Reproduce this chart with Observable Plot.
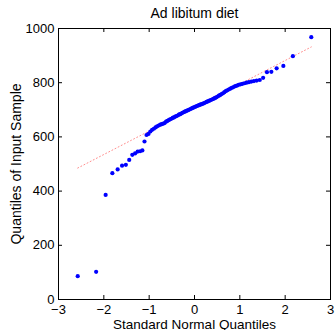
<!DOCTYPE html>
<html><head><meta charset="utf-8">
<script src="https://cdn.jsdelivr.net/npm/d3@7"></script>
<script src="https://cdn.jsdelivr.net/npm/@observablehq/plot@0.6"></script>
<style>body{margin:0;background:#fff}</style>
</head><body><div id="chart"></div>
<script>
const title = "Ad libitum diet";
const xLabel = "Standard Normal Quantiles";
const yLabel = "Quantiles of Input Sample";
const xTicks = [-3, -2, -1, 0, 1, 2, 3];
const yTicks = [0, 200, 400, 600, 800, 1000];

// Standard normal quantiles (x positions of the points)
const normalQuantiles = [
  -2.576, -2.170, -1.960, -1.812, -1.695, -1.598, -1.514, -1.440, -1.372, -1.311,
  -1.254, -1.200, -1.150, -1.103, -1.058, -1.015, -0.974, -0.935, -0.897, -0.860,
  -0.824, -0.789, -0.755, -0.722, -0.690, -0.659, -0.628, -0.598, -0.568, -0.539,
  -0.510, -0.482, -0.454, -0.426, -0.399, -0.372, -0.345, -0.319, -0.292, -0.266,
  -0.240, -0.215, -0.189, -0.164, -0.138, -0.113, -0.088, -0.063, -0.038, -0.013,
   0.013,  0.038,  0.063,  0.088,  0.113,  0.138,  0.164,  0.189,  0.215,  0.240,
   0.266,  0.292,  0.319,  0.345,  0.372,  0.399,  0.426,  0.454,  0.482,  0.510,
   0.539,  0.568,  0.598,  0.628,  0.659,  0.690,  0.722,  0.755,  0.789,  0.824,
   0.860,  0.897,  0.935,  0.974,  1.015,  1.058,  1.103,  1.150,  1.200,  1.254,
   1.311,  1.372,  1.440,  1.514,  1.598,  1.695,  1.812,  1.960,  2.170,  2.576
];

// Sorted sample values (y positions of the points)
const sampleQuantiles = [
   86, 102, 386, 466, 480, 494, 497, 515, 534, 539,
  546, 547, 550, 583, 607, 611, 620, 626, 630, 635,
  639, 642, 645, 647, 649, 651, 656, 659, 662, 665,
  667, 670, 672, 675, 677, 679, 682, 684, 686, 689,
  691, 693, 695, 697, 699, 701, 703, 705, 707, 709,
  711, 713, 715, 716, 718, 720, 721, 723, 725, 727,
  729, 731, 733, 735, 737, 739, 741, 744, 746, 749,
  752, 755, 758, 761, 765, 769, 772, 775, 778, 781,
  784, 787, 789, 792, 794, 796, 798, 800, 802, 804,
  806, 808, 810, 818, 839, 840, 853, 862, 898, 968
];

const points = normalQuantiles.map((x, i) => ({x, y: sampleQuantiles[i]}));
const n = points.length;
const xs = normalQuantiles.slice().sort((a, b) => a - b);
const ys = sampleQuantiles.slice().sort((a, b) => a - b);
const lo = Math.floor(n / 4) - 1, hi = Math.floor(3 * n / 4) - 1;
const q1x = (xs[lo] + xs[lo + 1]) / 2, q3x = (xs[hi] + xs[hi + 1]) / 2;
const q1y = (ys[lo] + ys[lo + 1]) / 2, q3y = (ys[hi] + ys[hi + 1]) / 2;
const slope = (q3y - q1y) / (q3x - q1x);
const f = x => q1y + slope * (x - q1x);
const xmin = d3.min(xs), xmax = d3.max(xs);
const solidLine = [{x: q1x, y: q1y}, {x: q3x, y: q3y}];
const dottedLine = [{x: xmin, y: f(xmin)}, {x: xmax, y: f(xmax)}];

const W = 336, H = 330, mL = 58, mR = 6, mT = 28, mB = 31;
const plotW = W - mL - mR, plotH = H - mT - mB, tickLen = 4;

const chart = Plot.plot({
  width: W, height: H,
  marginLeft: mL, marginRight: mR, marginTop: mT, marginBottom: mB,
  style: {fontFamily: "'Liberation Sans', Arial, Helvetica, sans-serif", fontSize: "13px", color: "#000", background: "#fff", overflow: "visible"},
  x: {domain: [-3, 3]},
  y: {domain: [0, 1000]},
  marks: [
    Plot.line(dottedLine, {x: "x", y: "y", stroke: "#ff0000", strokeOpacity: 0.45, strokeWidth: 1, strokeDasharray: "1,2.5"}),
    Plot.line(solidLine, {x: "x", y: "y", stroke: "#ff0000", strokeWidth: 1.3}),
    Plot.dot(points, {x: "x", y: "y", r: 2.1, fill: "#0000ff", stroke: "none"}),
    Plot.tickX(xTicks, {x: d => d, insetTop: plotH - tickLen, stroke: "#000"}),
    Plot.tickX(xTicks, {x: d => d, insetBottom: plotH - tickLen, stroke: "#000"}),
    Plot.tickY(yTicks, {y: d => d, insetRight: plotW - tickLen, stroke: "#000"}),
    Plot.tickY(yTicks, {y: d => d, insetLeft: plotW - tickLen, stroke: "#000"}),
    Plot.frame({stroke: "#000"}),
    Plot.axisX(xTicks, {anchor: "bottom", tickSize: 0, tickPadding: 5, label: null, fontSize: 13}),
    Plot.axisY(yTicks, {anchor: "left", tickSize: 0, tickPadding: 4, label: null, fontSize: 13, tickFormat: d3.format("d")}),
    Plot.text([title], {frameAnchor: "top", dy: -11, lineAnchor: "bottom", text: d => d, fontSize: 14}),
    Plot.text([xLabel], {frameAnchor: "bottom", dy: 29, lineAnchor: "bottom", text: d => d, fontSize: 13.5}),
    Plot.text([yLabel], {frameAnchor: "left", dx: -38, rotate: -90, textAnchor: "middle", lineAnchor: "bottom", text: d => d, fontSize: 14})
  ]
});
document.getElementById("chart").appendChild(chart);
</script>
</body></html>
